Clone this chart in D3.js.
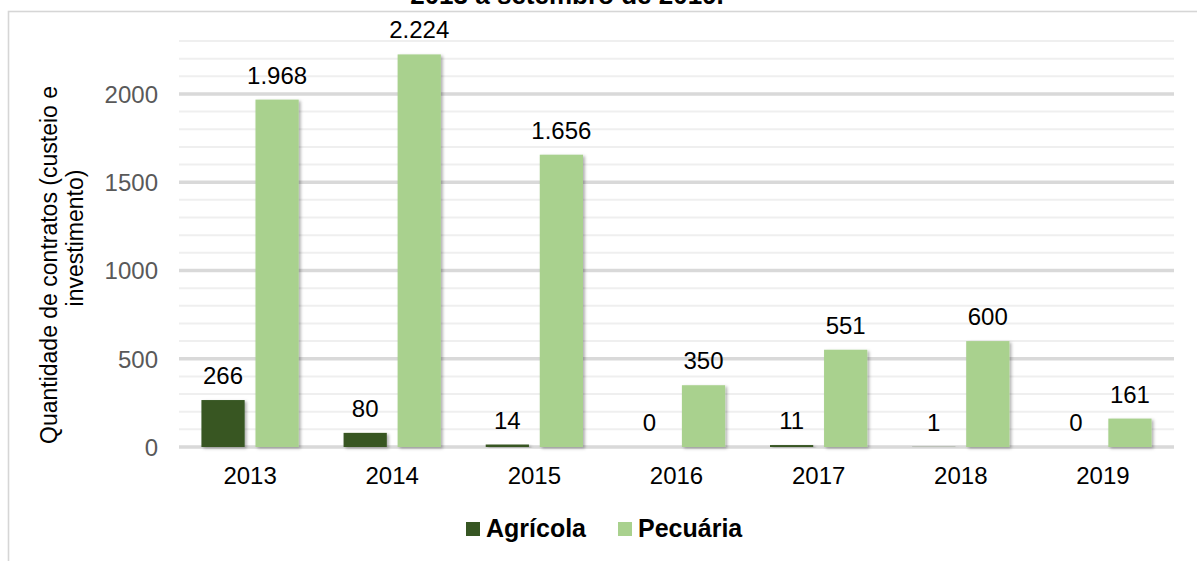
<!DOCTYPE html>
<html>
<head>
<meta charset="utf-8">
<script src="https://cdn.jsdelivr.net/npm/d3@7"></script>
<style>
  html, body { margin: 0; padding: 0; background: #fff; }
  svg { display: block; font-family: "Liberation Sans", Arial, sans-serif; }
</style>
</head>
<body>
<svg id="chart" width="1197" height="561"></svg>
<script>
// Contratos por ano e finalidade
const years = ["2013", "2014", "2015", "2016", "2017", "2018", "2019"];
const seriesNames = ["Agrícola", "Pecuária"];
const agricola = [266, 80, 14, 0, 11, 1, 0];
const pecuaria = [1968, 2224, 1656, 350, 551, 600, 161];
const majorTicks = [0, 500, 1000, 1500, 2000];
const minorTicks = [100, 200, 300, 400, 600, 700, 800, 900, 1100, 1200, 1300, 1400,
                    1600, 1700, 1800, 1900, 2100, 2200, 2300];
const seriesColors = ["#375623", "#a9d18e"];
const titleLine = "2013 a setembro de 2019.";
const yTitleLines = ["Quantidade de contratos (custeio e", "investimento)"];

const svg = d3.select("#chart");
const ptBR = d3.formatLocale({ decimal: ",", thousands: ".", grouping: [3], currency: ["R$", ""] });
const fmt = ptBR.format(",d");

// outer frame
svg.append("rect")
  .attr("x", 8.5).attr("y", 11.5)
  .attr("width", 1250).attr("height", 600)
  .attr("fill", "none").attr("stroke", "#d6d6d6").attr("stroke-width", 1.6);

// title (last line)
svg.append("text")
  .attr("x", 567).attr("y", 4)
  .attr("text-anchor", "middle")
  .attr("font-size", 26).attr("font-weight", "bold").attr("fill", "#000")
  .text(titleLine);

const x = d3.scaleBand().domain(years).range([179, 1174]).padding(0);
const xs = d3.scaleBand().domain(seriesNames).range([0, x.bandwidth()])
  .paddingInner(0.2).paddingOuter(0.415);
const y = d3.scaleLinear().domain([0, 2300]).range([447, 41]);

// shadow for bars
const defs = svg.append("defs");
const f = defs.append("filter").attr("id", "barShadow")
  .attr("x", "-20%").attr("y", "-20%").attr("width", "150%").attr("height", "150%");
f.append("feDropShadow").attr("dx", 2).attr("dy", 1.5).attr("stdDeviation", 1.6)
  .attr("flood-color", "#000").attr("flood-opacity", 0.3);

// gridlines
const grid = svg.append("g");
grid.selectAll("line.minor").data(minorTicks).join("line")
  .attr("class", "minor")
  .attr("x1", 179).attr("x2", 1174)
  .attr("y1", d => y(d)).attr("y2", d => y(d))
  .attr("stroke", "#efefef").attr("stroke-width", 2);
grid.selectAll("line.major").data(majorTicks).join("line")
  .attr("class", "major")
  .attr("x1", 179).attr("x2", 1174)
  .attr("y1", d => y(d)).attr("y2", d => y(d))
  .attr("stroke", "#d9d9d9").attr("stroke-width", 3.5);

// y axis labels
const yAxis = d3.axisLeft(y).tickValues(majorTicks).tickSize(0).tickPadding(0).tickFormat(d3.format("d"));
const yg = svg.append("g").attr("transform", "translate(158,0)").call(yAxis);
yg.select(".domain").remove();
yg.selectAll("text").attr("font-size", 24).attr("fill", "#595959")
  .attr("font-family", "Liberation Sans, Arial, sans-serif").attr("dy", "0.35em");

// x axis labels
const xAxis = d3.axisBottom(x).tickSize(0).tickPadding(0);
const xg = svg.append("g").attr("transform", "translate(0,467)").call(xAxis);
xg.select(".domain").remove();
xg.selectAll("text").attr("font-size", 24).attr("fill", "#000")
  .attr("font-family", "Liberation Sans, Arial, sans-serif").attr("dy", "0.72em");

// bars
const rows = years.map((yr, i) => ({ year: yr, values: [agricola[i], pecuaria[i]] }));
const groups = svg.append("g").selectAll("g").data(rows).join("g")
  .attr("transform", d => `translate(${x(d.year)},0)`);

groups.selectAll("rect")
  .data(d => d.values.map((v, j) => ({ key: seriesNames[j], value: v, j })))
  .join("rect")
  .attr("x", d => xs(d.key))
  .attr("width", xs.bandwidth())
  .attr("y", d => y(d.value))
  .attr("height", d => y(0) - y(d.value))
  .attr("fill", d => seriesColors[d.j])
  .attr("filter", d => d.value > 0 ? "url(#barShadow)" : null);

// value labels
groups.selectAll("text")
  .data(d => d.values.map((v, j) => ({ key: seriesNames[j], value: v })))
  .join("text")
  .attr("x", d => xs(d.key) + xs.bandwidth() / 2)
  .attr("y", d => y(d.value) - 16)
  .attr("text-anchor", "middle")
  .attr("font-size", 24).attr("fill", "#000")
  .text(d => fmt(d.value));

// y axis title
const yt = svg.append("g");
yt.append("text")
  .attr("transform", "translate(57,265) rotate(-90)")
  .attr("text-anchor", "middle").attr("font-size", 23).attr("fill", "#000")
  .text(yTitleLines[0]);
yt.append("text")
  .attr("transform", "translate(83,238) rotate(-90)")
  .attr("text-anchor", "middle").attr("font-size", 23).attr("fill", "#000")
  .text(yTitleLines[1]);

// legend
const legendX = [466, 618];
const lg = svg.append("g").selectAll("g").data(seriesNames).join("g")
  .attr("transform", (d, i) => `translate(${legendX[i]},0)`);
lg.append("rect").attr("x", 0).attr("y", 522).attr("width", 14).attr("height", 14)
  .attr("fill", (d, i) => seriesColors[i]);
lg.append("text").attr("x", 20).attr("y", 537)
  .attr("font-size", 25).attr("font-weight", "bold").attr("fill", "#000")
  .text(d => d);
</script>
</body>
</html>
